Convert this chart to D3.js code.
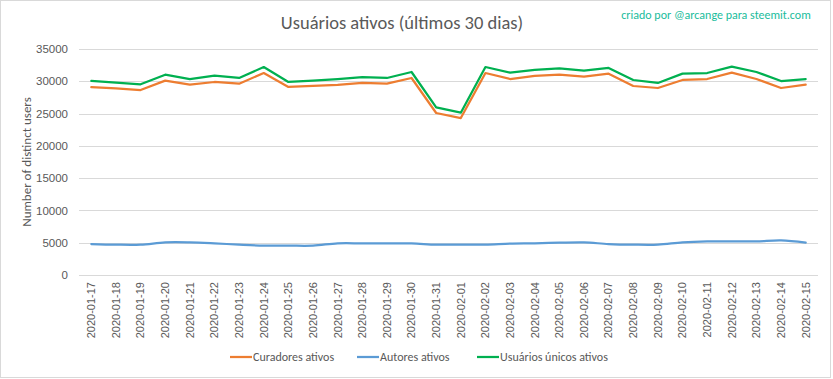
<!DOCTYPE html>
<html>
<head>
<meta charset="utf-8">
<script src="https://cdn.jsdelivr.net/npm/d3@7"></script>
<style>
  body { margin: 0; background: #fff; }
  svg { font-family: Carlito, "Liberation Sans Narrow", Lato, sans-serif; }
</style>
</head>
<body>
<div id="chart"></div>
<script>
const dates = ['2020-01-17','2020-01-18','2020-01-19','2020-01-20','2020-01-21','2020-01-22','2020-01-23','2020-01-24','2020-01-25','2020-01-26',
  '2020-01-27','2020-01-28','2020-01-29','2020-01-30','2020-01-31','2020-02-01','2020-02-02','2020-02-03','2020-02-04','2020-02-05',
  '2020-02-06','2020-02-07','2020-02-08','2020-02-09','2020-02-10','2020-02-11','2020-02-12','2020-02-13','2020-02-14','2020-02-15']

const curadores = [29100, 28900, 28650, 30100, 29470, 29890, 29630, 31280, 29120, 29270,
  29430, 29740, 29630, 30510, 25090, 24310, 31280, 30350, 30820, 31020,
  30720, 31180, 29270, 28960, 30200, 30350, 31330, 30350, 28960, 29470]

const autores = [4800, 4700, 4700, 5050, 5050, 4900, 4700, 4550, 4550, 4550,
  4900, 4900, 4900, 4900, 4700, 4700, 4700, 4850, 4900, 5000,
  5050, 4800, 4700, 4700, 5050, 5200, 5200, 5200, 5350, 5000]

const unicos = [30050, 29790, 29530, 31020, 30350, 30870, 30510, 32210, 29890, 30100,
  30350, 30660, 30510, 31440, 25970, 25140, 32210, 31330, 31750, 32010,
  31640, 32060, 30200, 29740, 31180, 31280, 32260, 31440, 30040, 30350]

const yTicks = [0, 5000, 10000, 15000, 20000, 25000, 30000, 35000]

const series = [
  { name: 'Curadores ativos', values: curadores, color: '#ED7D31', smooth: false },
  { name: 'Autores ativos', values: autores, color: '#5B9BD5', smooth: true },
  { name: 'Usuários únicos ativos', values: unicos, color: '#00B050', smooth: false }
]

const width = 833, height = 379
const margin = { left: 79, right: 15, top: 49, bottom: 104 }

const svg = d3.select('#chart').append('svg')
  .attr('width', width)
  .attr('height', height)

svg.append('rect')
  .attr('x', 0.5).attr('y', 0.5)
  .attr('width', width - 3).attr('height', height - 2)
  .attr('fill', '#fff').attr('stroke', '#d9d9d9')

const x = d3.scaleBand()
  .domain(dates)
  .range([margin.left, width - margin.right])

const y = d3.scaleLinear()
  .domain([0, 35000])
  .range([height - margin.bottom, margin.top])

// gridlines
svg.append('g')
  .selectAll('line')
  .data(yTicks)
  .join('line')
  .attr('x1', margin.left).attr('x2', width - margin.right)
  .attr('y1', d => Math.round(y(d)) + 0.5).attr('y2', d => Math.round(y(d)) + 0.5)
  .attr('stroke', '#d9d9d9')

// y axis labels
const yAxis = svg.append('g')
  .attr('transform', `translate(${margin.left - 8},0)`)
  .call(d3.axisLeft(y).tickValues(yTicks).tickSize(0).tickPadding(3).tickFormat(d3.format('d')))
yAxis.select('.domain').remove()
yAxis.selectAll('text')
  .attr('fill', '#595959')
  .style('font-size', '11.5px')

// x axis labels
const xAxis = svg.append('g')
  .attr('transform', `translate(0,${height - margin.bottom})`)
  .call(d3.axisBottom(x).tickSize(0))
xAxis.select('.domain').remove()
xAxis.selectAll('text')
  .attr('fill', '#595959')
  .style('font-size', '11px')
  .attr('text-anchor', 'end')
  .attr('transform', 'rotate(-90)')
  .attr('x', -7)
  .attr('y', 0)
  .attr('dy', '0.35em')

// lines
const cx = d => x(d) + x.bandwidth() / 2
series.forEach(s => {
  const line = d3.line()
    .x((v, i) => cx(dates[i]))
    .y(v => y(v))
    .curve(s.smooth ? d3.curveCatmullRom.alpha(0.5) : d3.curveLinear)
  svg.append('path')
    .attr('d', line(s.values))
    .attr('fill', 'none')
    .attr('stroke', s.color)
    .attr('stroke-width', 2.25)
    .attr('stroke-linejoin', 'round')
    .attr('stroke-linecap', 'round')
})

// title
svg.append('text')
  .attr('x', 402).attr('y', 29)
  .attr('text-anchor', 'middle')
  .attr('fill', '#595959')
  .style('font-size', '18.5px')
  .text('Usuários ativos (últimos 30 dias)')

svg.append('text')
  .attr('x', 716).attr('y', 19)
  .attr('text-anchor', 'middle')
  .attr('fill', '#1ABC9C')
  .style('font-size', '12px')
  .text('criado por @arcange para steemit.com')

// y title
svg.append('text')
  .attr('transform', 'translate(31,162) rotate(-90)')
  .attr('text-anchor', 'middle')
  .attr('fill', '#595959')
  .style('font-size', '13px')
  .text('Number of distinct users')

// legend
const legendX = [230, 357, 477]
const legend = svg.append('g')
series.forEach((s, i) => {
  legend.append('line')
    .attr('x1', legendX[i]).attr('x2', legendX[i] + 22)
    .attr('y1', 357).attr('y2', 357)
    .attr('stroke', s.color).attr('stroke-width', 2.25)
  legend.append('text')
    .attr('x', legendX[i] + 23).attr('y', 361)
    .attr('fill', '#595959')
    .style('font-size', '12px')
    .text(s.name)
})
</script>
</body>
</html>
